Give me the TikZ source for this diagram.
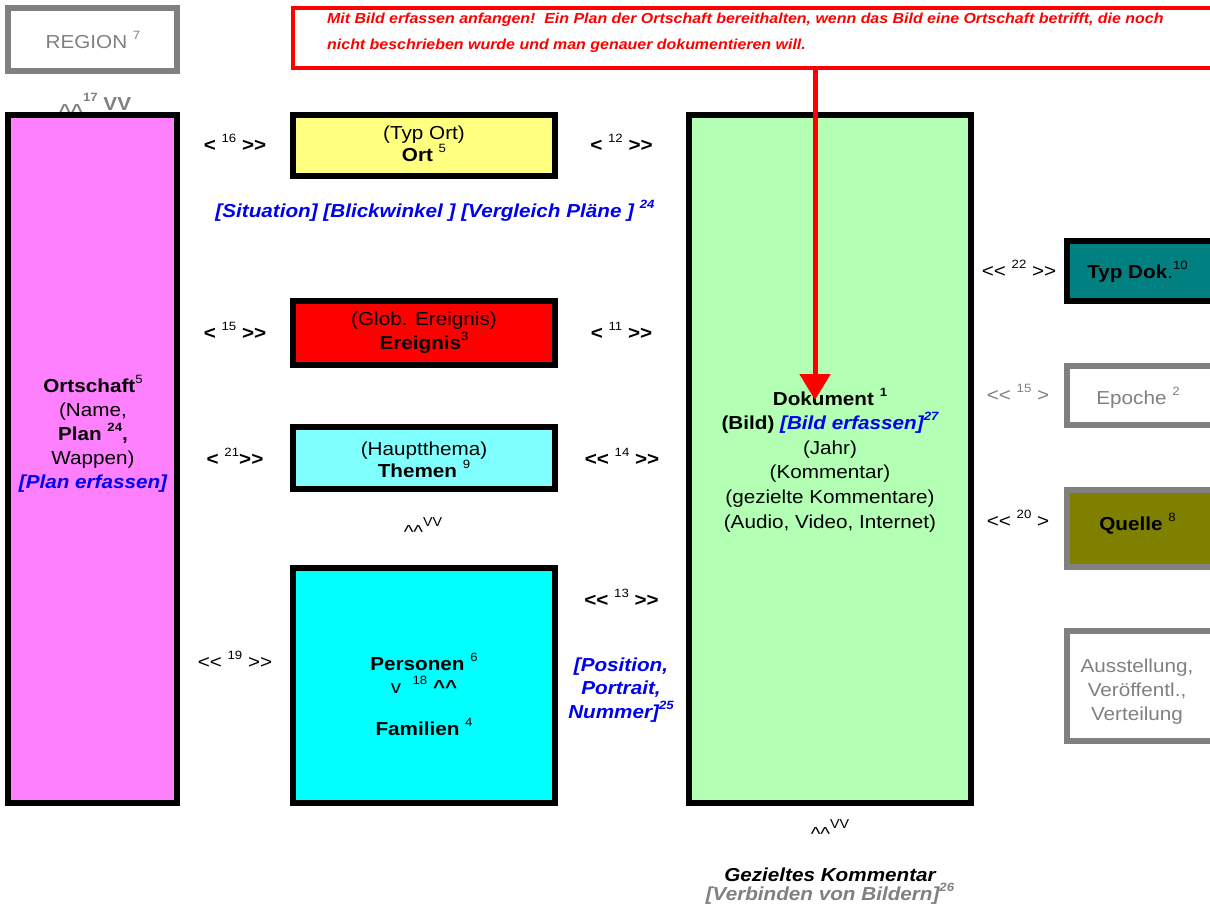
\documentclass[tikz,border=0pt]{standalone}
\usepackage{fontspec}
\setmainfont[FakeStretch=1.1,Ligatures=TeXOff]{Liberation Sans}
\usetikzlibrary{arrows.meta}
\definecolor{ortschaftpink}{HTML}{FF80FF}
\definecolor{ortyellow}{HTML}{FFFF80}
\definecolor{themencyan}{HTML}{80FFFF}
\definecolor{personencyan}{HTML}{00FFFF}
\definecolor{dokgreen}{HTML}{B3FFB3}
\definecolor{typteal}{HTML}{008080}
\definecolor{quelleolive}{HTML}{808000}
\definecolor{linkblue}{HTML}{0000F0}
\newcommand{\hoch}[1]{\raisebox{9pt}{\fontsize{12}{12}\selectfont #1}}
\newcommand{\dach}{\textasciicircum\textasciicircum}

\begin{document}
\begin{tikzpicture}[x=1pt,y=-1pt,
  every node/.style={font=\fontsize{18.8}{24}\selectfont,inner sep=0pt},
  box/.style={draw=black,line width=6pt},
  graybox/.style={draw=gray,line width=6pt},
  midbox/.style={box,minimum width=262pt},
  sidebox/.style={minimum width=148pt},
  txt/.style={anchor=base,align=center},
  boldlink/.style={anchor=base,font=\fontsize{18.8}{24}\selectfont\bfseries},
  plainlink/.style={anchor=base},
  blueref/.style={anchor=base,text=linkblue,align=center,font=\fontsize{18.8}{23.5}\selectfont\bfseries\itshape}]
\useasboundingbox (0,0) rectangle (1210,908);

% left column (text nodes sit on the baseline of their last line)
\node[graybox,minimum width=169pt,minimum height=63pt] (region) at (92.5,39.5) {};
\node[txt,text=gray] (regiontext) at (93,48) {REGION \hoch{7}};
\node[boldlink,text=gray] (tag17) at (95,110) {\raisebox{-7pt}{\dach}\hoch{17} VV};
\node[box,fill=ortschaftpink,minimum width=169pt,minimum height=688pt] (ortschaft) at (92.5,459) {};
\node[txt] (ortschafttext) at (93,488)
  {\textbf{Ortschaft}\hoch{5}\\(Name,\\\textbf{Plan \hoch{24},}\\Wappen)\\
   {\color{linkblue}\bfseries\itshape [Plan erfassen]}};

% middle column
\node[midbox,fill=ortyellow,minimum height=61pt] (ort) at (424,145.5) {};
\node[txt,font=\fontsize{18.8}{22}\selectfont] (orttext) at (424,161) {(Typ Ort)\\\textbf{Ort} \hoch{5}};
\node[midbox,fill=red,minimum height=64pt] (ereignis) at (424,333) {};
\node[txt,font=\fontsize{18.8}{24}\selectfont] (ereignistext) at (424,349) {(Glob. Ereignis)\\\textbf{Ereignis}\hoch{3}};
\node[midbox,fill=themencyan,minimum height=62pt] (themen) at (424,458) {};
\node[txt,font=\fontsize{18.8}{22}\selectfont] (thementext) at (424,477) {(Hauptthema)\\\textbf{Themen} \hoch{9}};
\node[midbox,fill=personencyan,minimum height=235pt] (personen) at (424,685.5) {};
\node[txt,font=\fontsize{18.8}{23}\selectfont] (personentext) at (424,735)
  {\textbf{Personen} \hoch{6}\\v\ \ \hoch{18} \textbf{\dach}\\[19pt]\textbf{Familien} \hoch{4}};
\node[blueref] (situation) at (435,217) {[Situation] [Blickwinkel ] [Vergleich Pläne ] \hoch{24}};
\node[plainlink] (themendach) at (423,538) {\dach\raisebox{12pt}{\fontsize{13}{13}\selectfont VV}};

% labels left of the middle column
\node[boldlink] (l16) at (235,151) {< \hoch{\mdseries 16} >>};
\node[boldlink] (l15) at (235,339) {< \hoch{\mdseries 15} >>};
\node[boldlink] (l21) at (235,465) {< \hoch{\mdseries 21}>>};
\node[plainlink] (l19) at (235,668) {<< \hoch{19} >>};

% labels right of the middle column
\node[boldlink] (l12) at (621.5,151) {< \hoch{\mdseries 12} >>};
\node[boldlink] (l11) at (621.5,339) {< \hoch{\mdseries 11} >>};
\node[boldlink] (l14) at (622,465) {<< \hoch{\mdseries 14} >>};
\node[boldlink] (l13) at (621.5,606) {<< \hoch{\mdseries 13} >>};
\node[blueref] (position) at (621,718) {[Position,\\Portrait,\\Nummer]\hoch{25}};

% document
\node[box,fill=dokgreen,minimum width=282pt,minimum height=688pt] (dokument) at (830,459) {};
\node[txt,font=\fontsize{18.8}{24.6}\selectfont] (dokumenttext) at (830,528)
  {\textbf{Dokument \hoch{1}}\\\textbf{(Bild)} {\color{linkblue}\bfseries\itshape [Bild erfassen]\hoch{27}}\\
   (Jahr)\\(Kommentar)\\(gezielte Kommentare)\\(Audio, Video, Internet)};
\node[plainlink] (dokdach) at (830,840) {\dach\raisebox{12pt}{\fontsize{13}{13}\selectfont VV}};
\node[txt,font=\fontsize{18.8}{19}\selectfont\bfseries\itshape] (kommentar) at (830,900)
  {Gezieltes Kommentar\\{\color{gray}[Verbinden von Bildern]\hoch{26}}};

% note and arrow
\node[draw=red,line width=4pt,minimum width=920pt,minimum height=60pt] (note) at (753,38) {};
\node[anchor=base west,align=left,text=red,font=\fontsize{14.5}{26}\selectfont\bfseries\itshape] (notetext) at (327,49)
  {Mit Bild erfassen anfangen!\ \ Ein Plan der Ortschaft bereithalten, wenn das Bild eine Ortschaft betrifft, die noch\\
   nicht beschrieben wurde und man genauer dokumentieren will.};
\coordinate (dokarrow) at (815,400);
\draw[red,line width=5pt,-{Triangle[length=26pt,width=30pt]}] (note.south -| dokarrow) -- (dokarrow);

% right column
\node[box,fill=typteal,sidebox,minimum height=60pt] (typdok) at (1141,271) {};
\node[txt] (typdoktext) at (1137.5,278) {\textbf{Typ Dok}.\hoch{10}};
\node[graybox,sidebox,minimum height=59pt] (epoche) at (1141,395.5) {};
\node[txt,text=gray] (epochetext) at (1138,404) {Epoche \hoch{2}};
\node[graybox,fill=quelleolive,sidebox,minimum height=77pt] (quelle) at (1141,528.5) {};
\node[txt] (quelletext) at (1137.5,530) {\textbf{Quelle} \hoch{8}};
\node[graybox,sidebox,minimum height=110pt] (ausstellung) at (1141,686) {};
\node[txt,text=gray] (ausstellungtext) at (1137,720) {Ausstellung,\\Veröffentl.,\\Verteilung};
\node[plainlink] (l22) at (1019,277) {<< \hoch{22} >>};
\node[plainlink,text=gray] (l15b) at (1018,401) {<< \hoch{15} >};
\node[plainlink] (l20) at (1018,527) {<< \hoch{20} >};
\end{tikzpicture}
\end{document}
